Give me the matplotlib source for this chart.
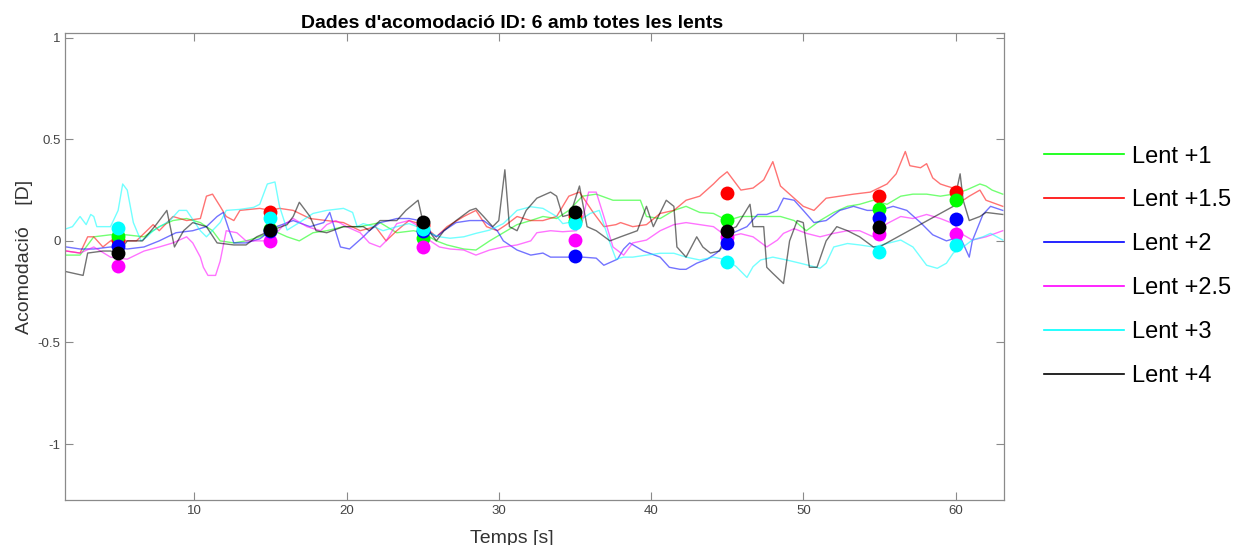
import numpy as np
import matplotlib
matplotlib.use("Agg")
import matplotlib.pyplot as plt
from matplotlib.lines import Line2D
from matplotlib.ticker import FormatStrFormatter

plt.rcParams['font.family'] = ['Liberation Sans', 'DejaVu Sans']

# traces (time [s], accommodation [D])
t_green = [1.6, 2.5, 3.4, 4.5, 5.5, 6.7, 7.7, 8.6, 9.5, 10.4, 11.2, 11.7, 12.6, 13.4, 14.3, 15.2, 16.1, 16.9,
           17.8, 18.7, 19.8, 20.9, 22.2, 23.3, 24.4, 25.0, 25.9, 26.6, 27.7, 28.5, 29.4, 30.3, 31.2, 32.1,
           32.9, 33.8, 34.6, 35.5, 36.4, 37.5, 38.6, 39.3, 39.7, 40.6, 41.5, 42.3, 43.2, 44.1, 45.0, 45.9,
           46.7, 47.6, 48.5, 49.4, 50.2, 51.1, 52.0, 52.9, 53.7, 54.6, 55.5, 56.4, 57.2, 58.1, 59.0, 59.85,
           60.7, 61.6, 62.0, 62.4, 63.1]
y_green = [-0.07, -0.07, 0.02, 0.03, 0.03, 0.02, 0.07, 0.10, 0.11, 0.09, 0.05, 0.0, -0.01, 0.0, 0.02, 0.05, 0.02, 0.0,
           0.04, 0.05, 0.07, 0.07, 0.09, 0.04, 0.05, 0.04, 0.0, -0.02, -0.04, -0.045, 0.0, 0.04, 0.08, 0.10,
           0.12, 0.11, 0.15, 0.22, 0.23, 0.20, 0.20, 0.20, 0.12, 0.11, 0.15, 0.17, 0.14, 0.135, 0.10, 0.12,
           0.12, 0.12, 0.12, 0.10, 0.05, 0.10, 0.14, 0.17, 0.18, 0.20, 0.18, 0.22, 0.23, 0.23, 0.22, 0.23,
           0.25, 0.28, 0.27, 0.25, 0.23]

t_red = [1.6, 2.5, 3.0, 3.4, 4.0, 4.5, 5.5, 6.2, 7.3, 7.7, 8.6, 9.5, 10.4, 10.8, 11.2, 11.7, 12.1, 12.6, 13.0,
         14.3, 15.0, 15.6, 16.5, 17.6, 18.7, 19.8, 20.9, 21.9, 22.6, 23.3, 24.1, 25.0, 25.9, 26.6, 27.7,
         28.5, 29.2, 29.9, 30.5, 31.2, 32.1, 32.9, 33.8, 34.6, 35.3, 36.2, 36.9, 37.7, 38.0, 38.8, 39.7,
         40.6, 41.5, 42.3, 43.2, 44.1, 44.5, 45.0, 45.4, 45.9, 46.7, 47.4, 48.0, 48.5, 49.1, 50.0, 50.7,
         51.5, 52.4, 53.3, 54.4, 55.5, 56.1, 56.7, 57.0, 57.7, 58.1, 58.5, 59.0, 59.4, 59.85, 60.5, 60.9,
         61.6, 62.0, 63.1]
y_red = [-0.05, -0.06, 0.02, 0.02, -0.03, 0.0, 0.0, 0.0, 0.08, 0.05, 0.12, 0.10, 0.11, 0.22, 0.23, 0.17, 0.12, 0.10, 0.15,
         0.16, 0.15, 0.16, 0.15, 0.11, 0.10, 0.09, 0.05, 0.07, 0.0, 0.05, 0.10, 0.08, 0.02, 0.07, 0.12,
         0.15, 0.07, 0.05, 0.08, 0.12, 0.10, 0.10, 0.12, 0.22, 0.24, 0.14, 0.07, 0.08, 0.09, 0.07, 0.08,
         0.135, 0.15, 0.20, 0.22, 0.28, 0.31, 0.34, 0.30, 0.25, 0.26, 0.30, 0.39, 0.27, 0.23, 0.17, 0.15,
         0.21, 0.22, 0.23, 0.24, 0.28, 0.33, 0.44, 0.37, 0.36, 0.38, 0.31, 0.28, 0.27, 0.26, 0.20, 0.22,
         0.25, 0.20, 0.17]

t_blue = [1.6, 2.5, 3.4, 4.5, 5.6, 6.7, 7.7, 8.8, 9.9, 10.8, 11.5, 11.9, 12.3, 12.6, 13.4, 14.3, 15.4, 16.5,
          17.6, 18.5, 18.9, 19.6, 20.2, 21.1, 21.5, 22.2, 22.8, 23.3, 24.1, 24.8, 25.5, 25.9, 26.4, 27.2,
          28.1, 29.0, 29.9, 30.3, 31.2, 32.1, 32.9, 33.4, 34.2, 35.5, 36.4, 36.9, 37.8, 38.2, 38.6, 39.5,
          40.6, 41.2, 41.9, 42.3, 43.0, 43.7, 44.3, 45.0, 45.4, 46.3, 47.0, 47.6, 48.3, 48.7, 49.4, 50.0,
          50.7, 51.5, 52.4, 53.3, 54.2, 55.0, 55.9, 56.8, 57.7, 58.5, 59.4, 60.3, 60.9, 61.1, 61.8, 62.3, 63.1]
y_blue = [-0.03, -0.04, -0.04, -0.03, -0.04, -0.03, 0.0, 0.04, 0.05, 0.07, 0.12, 0.14, 0.05, -0.01, -0.01, 0.01, 0.07, 0.10,
          0.07, 0.09, 0.14, -0.03, -0.04, 0.02, 0.05, 0.09, 0.10, 0.11, 0.11, 0.10, 0.04, 0.02, 0.05, 0.09,
          0.10, 0.10, 0.05, 0.0, -0.045, -0.07, -0.06, -0.08, -0.08, -0.08, -0.085, -0.12, -0.09, -0.04, -0.01, -0.05,
          -0.08, -0.13, -0.14, -0.14, -0.11, -0.09, -0.06, -0.01, 0.04, 0.07, 0.13, 0.13, 0.15, 0.21, 0.20, 0.15,
          0.09, 0.10, 0.15, 0.17, 0.15, 0.15, 0.17, 0.15, 0.09, 0.03, 0.0, 0.02, -0.08, 0.0, 0.13, 0.17, 0.15]

t_mag = [1.6, 2.5, 3.4, 4.5, 5.6, 6.7, 7.7, 8.6, 9.5, 9.9, 10.4, 10.6, 10.9, 11.4, 11.7, 12.1, 12.8, 13.4, 14.3,
         15.0, 15.4, 15.9, 16.5, 17.4, 18.3, 18.7, 19.3, 20.0, 20.9, 21.5, 22.2, 22.6, 23.3, 24.1, 24.8,
         25.5, 26.1, 26.8, 27.7, 28.5, 29.4, 30.3, 31.2, 32.1, 32.5, 33.4, 34.2, 35.1, 35.5, 35.9, 36.4,
         36.9, 37.5, 38.2, 38.8, 39.7, 40.6, 41.5, 42.3, 43.2, 44.1, 45.0, 45.9, 46.7, 47.6, 48.3, 48.7,
         49.4, 50.2, 51.1, 52.0, 52.9, 53.7, 54.6, 55.5, 56.4, 57.2, 58.1, 59.0, 59.85, 60.5, 61.1, 62.0, 63.1]
y_mag = [-0.05, -0.06, -0.03, -0.08, -0.09, -0.05, -0.03, -0.01, 0.02, -0.01, -0.08, -0.13, -0.17, -0.17, -0.10, 0.05, 0.04, 0.0, 0.0,
         0.0, 0.04, 0.08, 0.11, 0.07, 0.05, 0.08, 0.10, 0.07, 0.04, -0.01, -0.03, 0.0, 0.085, 0.10, 0.07,
         0.0, -0.03, -0.04, -0.045, -0.07, -0.045, -0.03, -0.02, 0.0, 0.04, 0.05, 0.045, 0.05, 0.10, 0.24, 0.24,
         0.12, -0.03, -0.07, -0.01, 0.004, 0.05, 0.08, 0.09, 0.08, 0.07, 0.02, 0.035, 0.02, -0.03, 0.004, 0.037,
         0.06, 0.037, 0.02, 0.037, 0.05, 0.05, 0.02, 0.085, 0.12, 0.11, 0.13, 0.11, 0.085, 0.03, 0.004, 0.02, 0.05]

t_cyan = [1.6, 2.0, 2.5, 2.9, 3.2, 3.4, 3.6, 4.5, 5.0, 5.3, 5.6, 6.0, 6.5, 6.9, 7.3, 8.4, 9.0, 9.5, 10.4, 10.8,
          11.7, 12.1, 13.0, 13.9, 14.3, 14.8, 15.3, 15.6, 16.1, 16.9, 17.8, 18.7, 19.8, 20.4, 20.7, 21.1,
          21.8, 22.4, 23.3, 24.1, 25.0, 25.5, 26.1, 26.8, 27.7, 28.5, 29.4, 30.3, 31.2, 32.1, 32.9, 33.8,
          34.2, 35.3, 36.0, 36.6, 37.3, 37.7, 38.2, 38.8, 39.7, 40.6, 41.5, 42.3, 43.2, 44.1, 45.0, 45.6,
          46.3, 46.7, 47.2, 48.0, 48.9, 49.8, 50.7, 51.1, 51.5, 52.0, 52.9, 53.7, 54.6, 55.5, 56.4, 57.2,
          57.7, 58.1, 58.8, 59.4, 59.85, 60.5, 61.1, 61.8, 62.3, 63.1]
y_cyan = [0.06, 0.07, 0.12, 0.08, 0.13, 0.12, 0.07, 0.07, 0.15, 0.28, 0.25, 0.09, 0.0, 0.02, 0.05, 0.10, 0.15, 0.15, 0.05, 0.02,
          0.09, 0.15, 0.155, 0.165, 0.18, 0.28, 0.29, 0.17, 0.053, 0.09, 0.135, 0.15, 0.16, 0.14, 0.07, 0.085,
          0.07, 0.05, 0.07, 0.085, 0.06, 0.037, 0.02, 0.013, 0.02, 0.037, 0.053, 0.085, 0.15, 0.168, 0.16, 0.12,
          0.085, 0.10, 0.135, 0.15, -0.01, -0.09, -0.08, -0.08, -0.07, -0.061, -0.061, -0.08, -0.094, -0.08, -0.094, -0.127,
          -0.18, -0.127, -0.094, -0.08, -0.094, -0.11, -0.127, -0.135, -0.11, -0.03, -0.013, -0.02, -0.03, -0.013, 0.004, -0.03,
          -0.08, -0.12, -0.135, -0.11, -0.06, -0.03, 0.004, 0.02, 0.037, 0.004]

t_black = [1.5, 2.7, 3.0, 4.0, 4.5, 5.0, 5.6, 6.6, 7.5, 8.2, 8.7, 9.3, 9.9, 10.8, 11.5, 12.6, 13.4, 14.1, 15.0,
           16.1, 16.5, 16.9, 17.6, 18.0, 18.7, 19.8, 21.1, 21.5, 22.2, 23.3, 23.9, 24.7, 25.0, 25.5, 25.9,
           26.4, 27.2, 28.1, 28.5, 29.0, 29.6, 30.0, 30.4, 30.7, 31.2, 31.8, 32.5, 33.4, 33.8, 34.2, 34.7,
           35.3, 35.8, 36.4, 37.3, 38.0, 39.1, 39.7, 40.15, 41.0, 41.5, 41.7, 42.3, 43.0, 43.4, 43.9, 44.5,
           45.0, 45.6, 46.5, 46.7, 47.4, 47.6, 48.0, 48.7, 49.1, 49.6, 50.0, 50.4, 50.9, 51.5, 52.2, 52.9,
           53.7, 54.6, 55.0, 59.85, 60.3, 60.5, 60.9, 61.6, 62.0, 63.1]
y_black = [-0.15, -0.17, -0.06, -0.05, -0.05, -0.06, 0.0, 0.0, 0.08, 0.15, -0.03, 0.05, 0.09, 0.07, -0.01, -0.02, -0.02, 0.02, 0.05,
           0.08, 0.12, 0.19, 0.12, 0.05, 0.04, 0.07, 0.07, 0.05, 0.10, 0.10, 0.15, 0.20, 0.10, 0.04, 0.0,
           0.05, 0.10, 0.15, 0.16, 0.12, 0.07, 0.10, 0.35, 0.07, 0.05, 0.15, 0.21, 0.24, 0.22, 0.12, 0.13,
           0.27, 0.07, 0.05, 0.0, 0.02, 0.05, 0.17, 0.07, 0.20, 0.17, -0.03, -0.08, 0.02, -0.03, -0.06, -0.05,
           0.05, 0.07, 0.18, 0.07, 0.07, -0.13, -0.16, -0.21, 0.0, 0.10, 0.09, -0.13, -0.13, 0.0, 0.07, 0.05,
           0.02, -0.03, -0.03, 0.17, 0.33, 0.20, 0.10, 0.12, 0.14, 0.13]

# mean markers every 10 s
mark_t = [5, 15, 25, 35, 45, 55, 60]
mark_green = [0.024, 0.06, 0.013, 0.10, 0.103, 0.156, 0.20]
mark_red = [0.004, 0.144, 0.08, 0.12, 0.238, 0.223, 0.24]
mark_blue = [-0.024, 0.05, 0.05, -0.072, -0.012, 0.112, 0.108]
mark_mag = [-0.124, -0.003, -0.032, 0.004, 0.02, 0.032, 0.032]
mark_cyan = [0.062, 0.114, 0.059, 0.087, -0.106, -0.057, -0.02]
mark_black = [-0.061, 0.053, 0.095, 0.14, 0.05, 0.07, np.nan]

labels = ['Lent +1', 'Lent +1.5', 'Lent +2', 'Lent +2.5', 'Lent +3', 'Lent +4']
colors = ['#00ff00', '#ff0000', '#0000ff', '#ff00ff', '#00ffff', '#000000']

traces = [(t_green, y_green), (t_red, y_red), (t_blue, y_blue),
          (t_mag, y_mag), (t_cyan, y_cyan), (t_black, y_black)]
marks = [mark_green, mark_red, mark_blue, mark_mag, mark_cyan, mark_black]

fig = plt.figure(figsize=(12.46, 5.45), dpi=100)
ax = fig.add_axes([0.0524, 0.082, 0.7536, 0.857])

for (t, y), c in zip(traces, colors):
    ax.plot(t, y, color=c, lw=1.0, alpha=0.55)

# marker draw order
for i in [1, 0, 3, 2, 4, 5]:
    ax.plot(mark_t, marks[i], 'o', color=colors[i], ms=10, mec='none')

ax.set_xlim(1.53, 63.2)
ax.set_ylim(-1.277, 1.022)
ax.set_xticks([10, 20, 30, 40, 50, 60])
ax.set_yticks([-1, -0.5, 0, 0.5, 1])
ax.yaxis.set_major_formatter(FormatStrFormatter('%g'))

gray = '#8a8a8a'
for s in ax.spines.values():
    s.set_color(gray)
    s.set_linewidth(0.9)
ax.tick_params(direction='in', length=6, width=0.8, color=gray, labelcolor='#444444',
               labelsize=9.5, top=True, right=True)

ax.set_xlabel('Temps [s]', fontsize=14, color='#333333', labelpad=9, x=0.476)
ax.set_ylabel('Acomodació    [D]', fontsize=14, color='#333333', labelpad=3, y=0.52)
ax.set_title("Dades d'acomodació ID: 6 amb totes les lents", fontsize=14, fontweight='bold',
             x=0.476, pad=4)

handles = [Line2D([0], [0], color=c, lw=1.2) for c in colors]
fig.legend(handles, labels, loc='upper left', bbox_to_anchor=(0.838, 0.733), frameon=False,
           fontsize=17, handlelength=3.4, handletextpad=0.3, labelspacing=0.93,
           borderpad=0, borderaxespad=0)

fig.savefig('out.png', dpi=100, facecolor='white')
